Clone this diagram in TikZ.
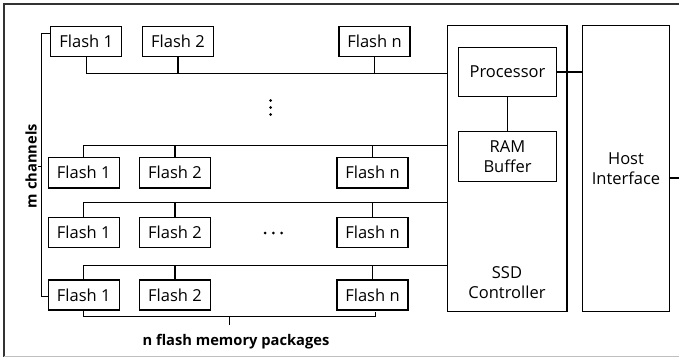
\documentclass[tikz,border=0pt]{standalone}
\usepackage{fontspec}
\setmainfont{Open Sans}

\tikzset{
  flash/.style={draw, line width=1.4pt, minimum width=71pt, minimum height=30pt, inner sep=0pt, font=\fontsize{16.5}{20}\selectfont},
  block/.style={draw, line width=1.4pt, inner sep=0pt, align=center, font=\fontsize{16.5}{20}\selectfont},
  bus/.style={line width=1.2pt},
  brace/.style={line width=0.9pt},
  note/.style={font=\bfseries\fontsize{14.7}{16}\selectfont}
}

\begin{document}
\begin{tikzpicture}[x=1pt, y=-1pt]
\useasboundingbox (0,0) rectangle (679,358);

% frame
\draw[line width=1.2pt, black!80] (679,4) -- (4,4) -- (4,356.7);
\draw[line width=1pt, gray!50] (4,356.7) -- (679,356.7);

% flash packages
\node[flash] (F11) at (86.2,41.7)  {Flash 1};
\node[flash] (F12) at (178,41.7)   {Flash 2};
\node[flash] (F1n) at (374.5,41.7) {Flash n};

\node[flash] (F21) at (83.7,172.8)  {Flash 1};
\node[flash] (F22) at (175,172.8)   {Flash 2};
\node[flash] (F2n) at (372.5,172.8) {Flash n};

\node[flash] (F31) at (83.7,232.5)  {Flash 1};
\node[flash] (F32) at (175,232.5)   {Flash 2};
\node[flash] (F3n) at (372.5,232.5) {Flash n};

\node[flash] (F41) at (83.7,295)  {Flash 1};
\node[flash] (F42) at (175,295)   {Flash 2};
\node[flash] (F4n) at (372.5,295) {Flash n};

% controller and host
\node[block, minimum width=119.7pt, minimum height=286pt] (ctrl) at (507.15,168.7) {};
\node[align=center, font=\fontsize{16.5}{20}\selectfont] (ctrltext) at (507,282.2) {SSD\\Controller};
\node[block, minimum width=98.4pt, minimum height=49.4pt] (proc) at (507.5,72) {Processor};
\node[block, minimum width=98.4pt, minimum height=50pt] (ram) at (507.5,156.7) {RAM\\Buffer};
\node[block, minimum width=86.6pt, minimum height=286pt] (host) at (626,168.7) {Host\\Interface};

\draw[bus] (proc) -- (ram);
\draw[bus] (proc.east) -- (host.west |- proc.east);
\coordinate (out) at (679,178);
\draw[bus] (host.east |- out) -- (out);

% channels
\coordinate (b1) at (447.3,73.3);
\coordinate (b2) at (447.3,145.7);
\coordinate (b3) at (447.3,202.3);
\coordinate (b4) at (447.3,265.7);

\draw[bus] (F11.south) |- (b1);
\draw[bus] (F12.south) -- (F12.south |- b1);
\draw[bus] (F1n.south) -- (F1n.south |- b1);

\draw[bus] (F21.north) |- (b2);
\draw[bus] (F22.north) -- (F22.north |- b2);
\draw[bus] (F2n.north) -- (F2n.north |- b2);

\draw[bus] (F31.north) |- (b3);
\draw[bus] (F32.north) -- (F32.north |- b3);
\draw[bus] (F3n.north) -- (F3n.north |- b3);

\draw[bus] (F41.north) |- (b4);
\draw[bus] (F42.north) -- (F42.north |- b4);
\draw[bus] (F4n.north) -- (F4n.north |- b4);

% dots
\foreach \y in {100.5,107.5,114.5}
  \fill (270.7,\y) circle (1.5pt);
\foreach \x in {265,273.3,281.6}
  \fill (\x,233) circle (1.5pt);

% m channels
\coordinate (chtop) at (41.7,33.3);
\coordinate (chbot) at (41.7,296.7);
\draw[brace] (F11.west |- chtop) -- (chtop) -- (chbot) -- (F41.west |- chbot);
\draw[brace] (41.7,166.7) -- ++(-3.5,0);
\node[note, rotate=90] (chlabel) at (31,166) {m channels};

% n packages
\coordinate (pkl) at (83.3,316.7);
\coordinate (pkr) at (375,316.7);
\draw[brace] (F41.south) -- (F41.south |- pkl) -- (pkr) -- (375,311.5);
\draw[brace] (229,316.7) -- (229,325);
\node[note] (pklabel) at (236,341.7) {n flash memory packages};
\end{tikzpicture}
\end{document}
